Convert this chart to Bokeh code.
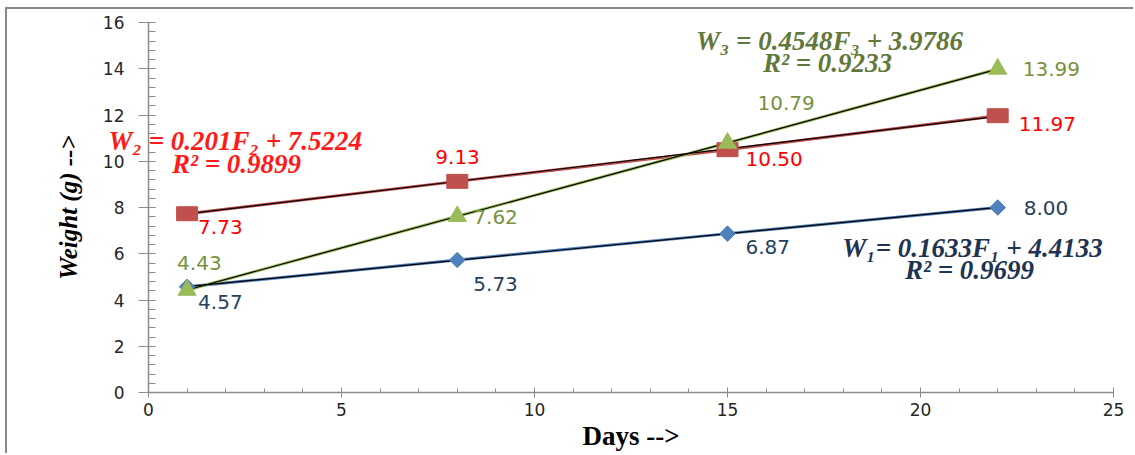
import numpy as np
from bokeh.plotting import figure
from bokeh.models import FixedTicker, Label, Range1d, Title
from bokeh.core.properties import value
from bokeh.embed import file_html
from bokeh.resources import INLINE

# ---- data ----
days = [1, 8, 15, 22]
w1 = [4.57, 5.73, 6.87, 8.00]
w2 = [7.73, 9.13, 10.50, 11.97]
w3 = [4.43, 7.62, 10.79, 13.99]

x_ticks = [0, 5, 10, 15, 20, 25]
y_ticks = [0, 2, 4, 6, 8, 10, 12, 14, 16]

slopes = [0.1633, 0.201, 0.4548]
intercepts = [4.4133, 7.5224, 3.9786]
eq_texts = ["W\u2081= 0.1633F\u2081 + 4.4133",
            "W\u2082 = 0.201F\u2082 + 7.5224",
            "W\u2083 = 0.4548F\u2083 + 3.9786"]
r2_texts = ["R\u00b2 = 0.9699", "R\u00b2 = 0.9899", "R\u00b2 = 0.9233"]

# ---- styles ----
blue, red, green = "#4F81BD", "#C0504D", "#9BBB59"
blue_lbl, red_lbl, green_lbl = "#243F60", "#FF0000", "#76923C"
blue_eq, red_eq, green_eq = "#1F3352", "#FF1A1A", "#62783A"
axis_col = "#8C8C8C"
tick_font = "DejaVu Sans"
serif = "Liberation Serif"
EQ_SIZE = "27px"

p = figure(width=1128, height=446, output_backend="svg", toolbar_location=None,
           x_range=Range1d(0, 25), y_range=Range1d(0, 16),
           min_border_left=141, min_border_right=22, min_border_top=13,
           min_border_bottom=63)
p.styles = {"margin-left": "5px", "margin-top": "7px",
            "border-left": "2px solid #878787", "border-top": "2px solid #878787"}
p.outline_line_color = None
p.xgrid.visible = False
p.ygrid.visible = False
p.background_fill_color = "white"

p.xaxis.ticker = FixedTicker(ticks=x_ticks, minor_ticks=list(range(0, 26)))
p.yaxis.ticker = FixedTicker(ticks=y_ticks, minor_ticks=[round(i * 0.4, 2) for i in range(41)])

for ax in (p.xaxis[0], p.yaxis[0]):
    ax.axis_line_color = axis_col
    ax.axis_line_width = 1.5
    ax.major_tick_line_color = axis_col
    ax.minor_tick_line_color = axis_col
    ax.major_label_text_font = tick_font
    ax.major_label_text_font_size = "17px"
    ax.major_label_text_color = "#262626"
    ax.axis_label_text_color = "#000000"
    ax.axis_label_text_font = serif

p.xaxis.major_tick_in = 5
p.xaxis.major_tick_out = 5
p.xaxis.minor_tick_in = 4
p.xaxis.minor_tick_out = 0
p.xaxis.major_label_standoff = 5
p.xaxis.axis_label = "Days -->"
p.xaxis.axis_label_text_font_size = "27px"
p.xaxis.axis_label_text_font_style = "bold"
p.xaxis.axis_label_standoff = 2

p.yaxis.major_tick_in = 7
p.yaxis.major_tick_out = 10
p.yaxis.minor_tick_in = 7
p.yaxis.minor_tick_out = 0
p.yaxis.major_label_standoff = 14
p.yaxis.axis_label = "Weight (g) -->"
p.yaxis.axis_label_text_font_size = "25px"
p.yaxis.axis_label_text_font_style = "bold italic"
p.yaxis.axis_label_standoff = 18

# ---- series lines ----
for ys, c in ((w1, blue), (w2, red), (w3, green)):
    p.line(days, ys, line_color=c, line_width=3)

# ---- trendlines (from the displayed equations) ----
xs_tr = np.array([days[0], days[-1]], dtype=float)
for m, b in zip(slopes, intercepts):
    p.line(xs_tr, m * xs_tr + b, line_color="black", line_width=1.2)

# ---- markers ----
p.scatter(days, w1, marker="square", angle=np.pi / 4, size=11, fill_color=blue, line_color=blue)
p.rect(days, w2, width=21, height=14, width_units="screen", height_units="screen",
       fill_color=red, line_color=red)
p.scatter(days, w3, marker="triangle", size=18, fill_color=green, line_color=green)

# ---- data labels ----
def labels(xs, ys, col, xo, yo):
    p.text(xs, ys, text=[f"{v:.2f}" for v in ys], x_offset=xo, y_offset=yo,
           text_font=value(tick_font), text_font_size="20px", text_color=col,
           text_align="left", text_baseline="middle")

labels(days, w1, blue_lbl, [11, 16, 18, 26], [15, 24, 13, 0])
labels(days, w2, red_lbl, [11, -22, 18, 21], [13, -24, 9, 8])
labels(days, w3, green_lbl, [-10, 16, 30, 25], [-27, 1, -40, 0])

# ---- equation annotations (canvas pixel positions) ----
def eq_label(x, y, t, c):
    p.add_layout(Label(x=x, y=y, x_units="canvas", y_units="canvas", text=t,
                       text_align="center", text_baseline="middle",
                       text_font=serif, text_font_size=EQ_SIZE,
                       text_font_style="bold italic", text_color=c))

eq_label(963, 236, eq_texts[0], blue_eq)
eq_label(960, 258, r2_texts[0], blue_eq)
eq_label(820, 29, eq_texts[2], green_eq)
eq_label(818, 51, r2_texts[2], green_eq)
eq_label(227, 152, r2_texts[1], red_eq)

# The W2 equation starts left of the y axis, where in-plot labels are clipped,
# so it is drawn as a title pulled down over the plot area.
p.add_layout(Title(text=eq_texts[1], align="left", vertical_align="bottom",
                   offset=-40, standoff=-266, text_font=serif,
                   text_font_size=EQ_SIZE, text_font_style="bold italic",
                   text_color=red_eq), "above")

open("out.html", "w").write(file_html(p, INLINE))
